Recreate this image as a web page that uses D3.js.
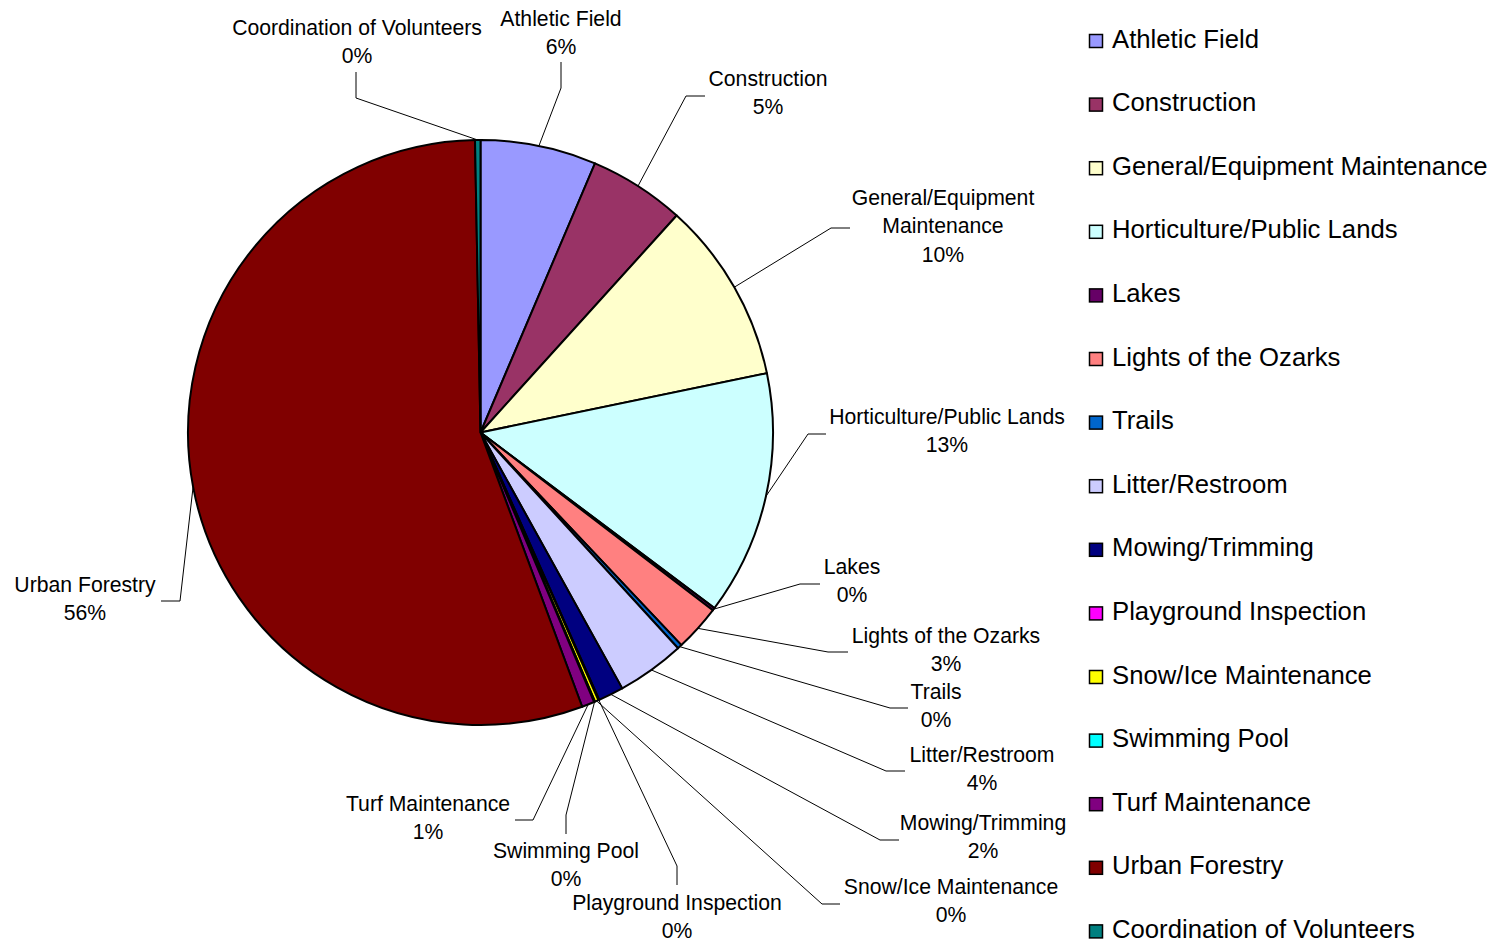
<!DOCTYPE html>
<html>
<head>
<meta charset="utf-8">
<script src="https://cdn.jsdelivr.net/npm/d3@7"></script>
<style>
  html, body { margin: 0; padding: 0; background: #fff; }
  svg { display: block; }
  text { font-family: "Liberation Sans", Arial, sans-serif; fill: #000; }
</style>
</head>
<body>
<svg id="chart" width="1499" height="945"></svg>
<script>
// ---- data ----
const categories = [
  "Athletic Field", "Construction", "General/Equipment Maintenance",
  "Horticulture/Public Lands", "Lakes", "Lights of the Ozarks", "Trails",
  "Litter/Restroom", "Mowing/Trimming", "Playground Inspection",
  "Snow/Ice Maintenance", "Swimming Pool", "Turf Maintenance",
  "Urban Forestry", "Coordination of Volunteers"
];
const values = [6.4, 5.3, 10.05, 13.5, 0.15, 2.55, 0.25, 3.75, 1.4, 0.05, 0.2, 0.05, 0.7, 55.35, 0.3];
const percentLabels = ["6%", "5%", "10%", "13%", "0%", "3%", "0%", "4%", "2%", "0%", "0%", "0%", "1%", "56%", "0%"];
const colors = [
  "#9999FF", "#993366", "#FFFFCC", "#CCFFFF", "#660066", "#FF8080", "#0066CC",
  "#CCCCFF", "#000080", "#FF00FF", "#FFFF00", "#00FFFF", "#800080", "#800000", "#008080"
];

// ---- label layout (positions of the data labels and their leader elbows) ----
const labelLines = [
  ["Athletic Field"], ["Construction"], ["General/Equipment", "Maintenance"],
  ["Horticulture/Public Lands"], ["Lakes"], ["Lights of the Ozarks"], ["Trails"],
  ["Litter/Restroom"], ["Mowing/Trimming"], ["Playground Inspection"],
  ["Snow/Ice Maintenance"], ["Swimming Pool"], ["Turf Maintenance"],
  ["Urban Forestry"], ["Coordination of Volunteers"]
];
const labelLayout = [
  { x: 561, y: 25.5, elbow: [561, 88],  end: [561, 62] },
  { x: 768, y: 85.5, elbow: [686, 96],  end: [705, 96] },
  { x: 943, y: 204.5, elbow: [831, 228], end: [850, 228] },
  { x: 947, y: 423.5, elbow: [808, 434], end: [826, 434] },
  { x: 852, y: 573.5, elbow: [800, 584], end: [820, 584] },
  { x: 946, y: 642.5, elbow: [828, 652], end: [848, 652] },
  { x: 936, y: 698.5, elbow: [890, 708], end: [908, 708] },
  { x: 982, y: 761.5, elbow: [886, 771], end: [905, 771] },
  { x: 983, y: 829.5, elbow: [880, 840], end: [899, 840] },
  { x: 677, y: 909.5, elbow: [677, 866], end: [677, 885] },
  { x: 951, y: 893.5, elbow: [822, 904], end: [840, 904] },
  { x: 566, y: 857.5, elbow: [566, 815], end: [566, 834] },
  { x: 428, y: 810.5, elbow: [533, 820], end: [515, 820] },
  { x: 85,  y: 591.5, elbow: [180, 601], end: [161, 601] },
  { x: 357, y: 34.5, elbow: [356, 98],  end: [356, 72] }
];

const cx = 480.5, cy = 432.5, R = 292.5;

const svg = d3.select("#chart");
const data = categories.map((c, i) => ({ name: c, value: values[i], color: colors[i], i }));

const pie = d3.pie().value(d => d.value).sort(null);
const arcs = pie(data);
const arc = d3.arc().innerRadius(0).outerRadius(R);

const g = svg.append("g").attr("transform", `translate(${cx},${cy})`);
g.selectAll("path.slice")
  .data(arcs)
  .join("path")
  .attr("class", "slice")
  .attr("d", arc)
  .attr("fill", d => d.data.color)
  .attr("stroke", "#000")
  .attr("stroke-width", 2)
  .attr("stroke-linejoin", "round");

// leader lines
const line = d3.line();
arcs.forEach((a, i) => {
  const mid = (a.startAngle + a.endAngle) / 2;
  const p0 = [cx + R * Math.sin(mid), cy - R * Math.cos(mid)];
  const L = labelLayout[i];
  svg.append("path")
    .attr("d", line([p0, L.elbow, L.end]))
    .attr("fill", "none")
    .attr("stroke", "#000")
    .attr("stroke-width", 1);
});

// data labels
const lblFont = 21.2, lblLead = 28.5;
arcs.forEach((a, i) => {
  const L = labelLayout[i];
  const lines = labelLines[i].concat([percentLabels[i]]);
  const t = svg.append("text")
    .attr("text-anchor", "middle")
    .attr("font-size", lblFont);
  lines.forEach((s, k) => {
    t.append("tspan").attr("x", L.x).attr("y", L.y + k * lblLead).text(s);
  });
});

// legend
const legY0 = 47.5, legStep = 63.6;
const leg = svg.append("g");
data.forEach((d, i) => {
  const y = legY0 + i * legStep;
  leg.append("rect")
    .attr("x", 1089.5).attr("y", y - 13)
    .attr("width", 13).attr("height", 13)
    .attr("fill", d.color)
    .attr("stroke", "#000").attr("stroke-width", 1.5);
  leg.append("text")
    .attr("x", 1112).attr("y", y)
    .attr("font-size", 25.7)
    .text(d.name);
});
</script>
</body>
</html>
